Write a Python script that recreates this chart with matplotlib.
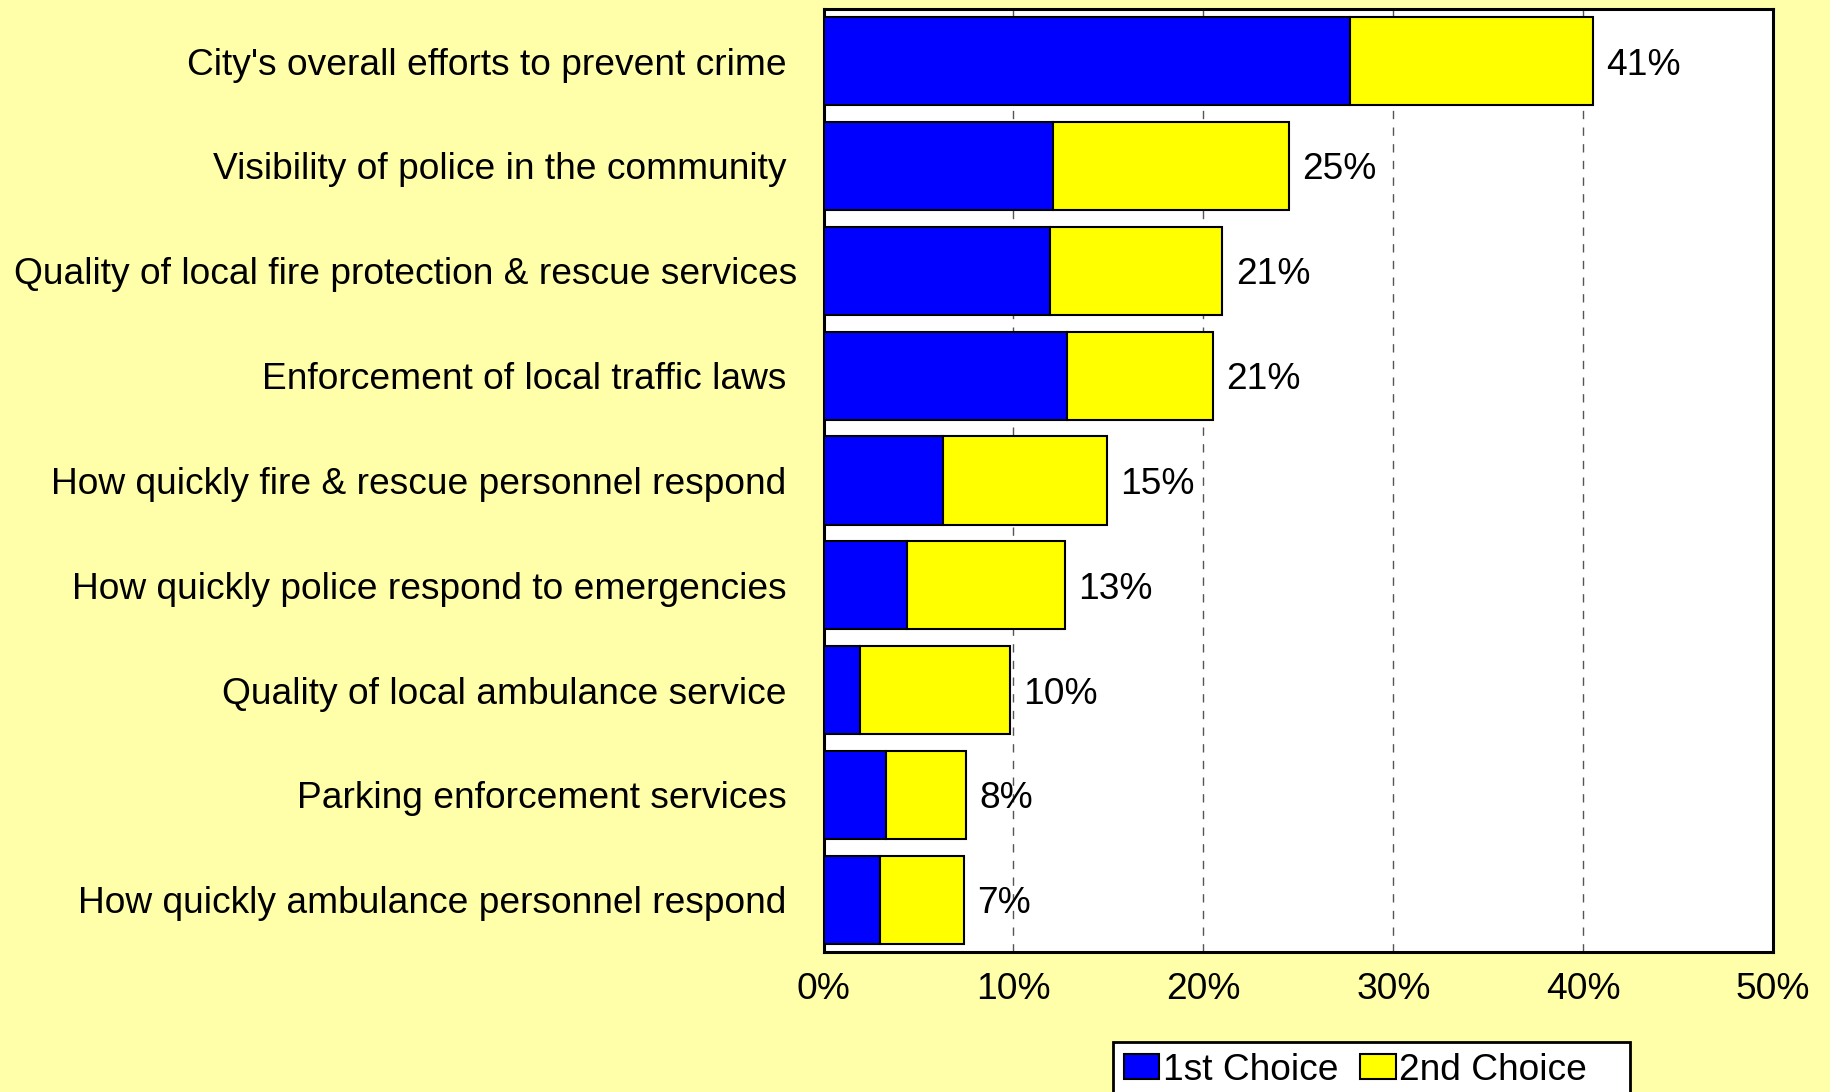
import matplotlib
matplotlib.use("Agg")
import matplotlib.pyplot as plt
import numpy as np

categories = [
    "City's overall efforts to prevent crime ",
    "Visibility of police in the community ",
    "Quality of local fire protection & rescue services",
    "Enforcement of local traffic laws ",
    "How quickly fire & rescue personnel respond ",
    "How quickly police respond to emergencies ",
    "Quality of local ambulance service ",
    "Parking enforcement services ",
    "How quickly ambulance personnel respond ",
]
first_choice = [27.7, 12.1, 11.9, 12.8, 6.3, 4.4, 1.9, 3.3, 3.0]
second_choice = [12.8, 12.4, 9.1, 7.7, 8.6, 8.3, 7.9, 4.2, 4.4]
total_labels = ["41%", "25%", "21%", "21%", "15%", "13%", "10%", "8%", "7%"]
series_names = ["1st Choice", "2nd Choice   "]
xticks = [0, 10, 20, 30, 40, 50]

bg = "#FFFFAA"
fs = 26.7
plt.rcParams["font.family"] = ["Liberation Sans", "DejaVu Sans"]

fig = plt.figure(figsize=(18.3, 10.92), dpi=100, facecolor=bg)
ax = fig.add_axes([0.450, 0.128, 0.519, 0.864])

ind = np.arange(len(categories))
first = np.array(first_choice)
second = np.array(second_choice)
h = 0.84

ax.barh(ind, first, h, color="#0000FF", edgecolor="black", linewidth=1.5,
        label=series_names[0], zorder=3)
ax.barh(ind, second, h, left=first, color="#FFFF00", edgecolor="black",
        linewidth=1.5, label=series_names[1], zorder=3)

for i, lab in enumerate(total_labels):
    ax.text(first[i] + second[i] + 0.7, ind[i], lab, va="center_baseline",
            ha="left", fontsize=fs, zorder=4)

ax.set_xlim(0, 50)
ax.set_ylim(len(categories) - 0.5, -0.5)
ax.set_xticks(xticks)
ax.set_xticklabels([f"{t}%" for t in xticks])
ax.set_yticks(ind)
ax.set_yticklabels(categories)
ax.tick_params(axis="both", length=0, labelsize=fs)
ax.tick_params(axis="y", pad=19)
ax.tick_params(axis="x", pad=14)
ax.xaxis.grid(True, color="#555555", linestyle=(0, (6, 6)), linewidth=1, zorder=0)
ax.set_axisbelow(True)
ax.set_facecolor("white")
for s in ax.spines.values():
    s.set_linewidth(2.2)
    s.set_color("black")

leg = fig.legend(loc="upper left", bbox_to_anchor=(0.608, 0.046), ncol=2,
                 fontsize=fs, frameon=True, fancybox=False, edgecolor="black",
                 facecolor="white", framealpha=1, handlelength=0.95,
                 handleheight=0.65, handletextpad=0.1, columnspacing=0.6,
                 borderpad=0.3, borderaxespad=0)
leg.get_frame().set_linewidth(2)

fig.savefig("out.png", dpi=100, facecolor=bg)
